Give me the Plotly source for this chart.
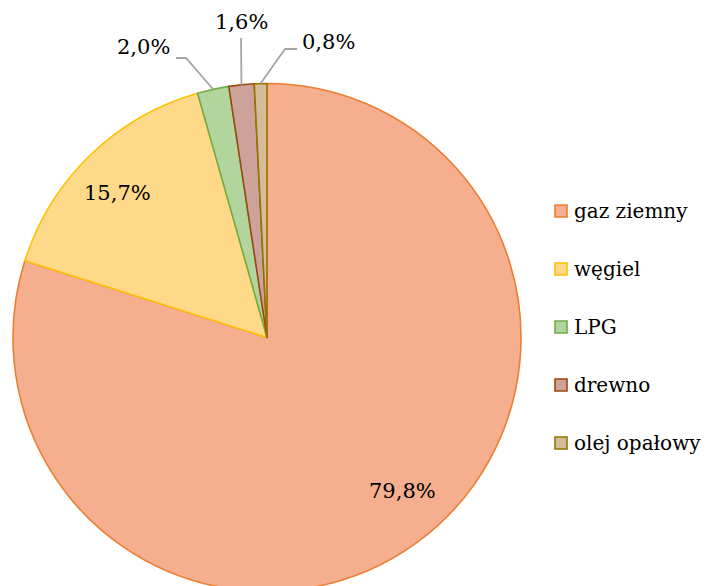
import math
import plotly.graph_objects as go

# ---- data ----
labels = ["gaz ziemny", "węgiel", "LPG", "drewno", "olej opałowy"]
values = [79.8, 15.7, 2.0, 1.6, 0.8]
value_texts = ["79,8%", "15,7%", "2,0%", "1,6%", "0,8%"]

fill_colors = ["#F5AF8F", "#FFD98A", "#B2D59E", "#CDA29B", "#D3BD98"]
line_colors = ["#ED7D31", "#FFC000", "#70AD47", "#9E480E", "#997300"]

W, H = 710, 592
cx, cy, R = 267, 337.5, 254
FONT = "DejaVu Serif"


def px(x):
    return x / W


def py(y):
    return 1 - y / H


total = sum(values)
cum = 0
mids = []
for v in values:
    mids.append((cum + v / 2) / total * 2 * math.pi)
    cum += v


def pt(angle, r):
    return cx + r * math.sin(angle), cy - r * math.cos(angle)


fig = go.Figure()
fig.add_trace(go.Pie(
    labels=labels, values=values, sort=False, direction="clockwise", rotation=0,
    marker=dict(colors=fill_colors, line=dict(color=line_colors, width=1.6)),
    textinfo="none", hoverinfo="label+percent", showlegend=False,
    domain=dict(x=[px(cx - R), px(cx + R)], y=[py(cy + R), py(cy - R)]),
))

annotations = []
shapes = []

# inside labels (large slices), label positions in pixels
inside_pos = {0: (402, 491), 1: (117, 193)}
for i, (x, y) in inside_pos.items():
    annotations.append(dict(x=px(x), y=py(y), xref="paper", yref="paper", text=value_texts[i],
                            showarrow=False, font=dict(family=FONT, size=21, color="#000000"),
                            xanchor="center", yanchor="middle"))

# outside labels with leader lines
outside = {
    2: dict(pos=(143, 47), path=[(176, 58), (186, 58)]),
    3: dict(pos=(241, 22), path=[(241, 38)]),
    4: dict(pos=(328, 42), path=[(297, 49), (285, 49)]),
}
for i, o in outside.items():
    annotations.append(dict(x=px(o["pos"][0]), y=py(o["pos"][1]), xref="paper", yref="paper",
                            text=value_texts[i], showarrow=False,
                            font=dict(family=FONT, size=21, color="#000000"),
                            xanchor="center", yanchor="middle"))
    ex, ey = pt(mids[i], R)
    pts = o["path"] + [(ex, ey)]
    d = "M " + " L ".join(f"{px(a):.5f},{py(b):.5f}" for a, b in pts)
    shapes.append(dict(type="path", path=d, xref="paper", yref="paper",
                       line=dict(color="#A5A5A5", width=1.8)))

# legend
for i, lab in enumerate(labels):
    yc = 211 + i * 58
    shapes.append(dict(type="rect", xref="paper", yref="paper",
                       x0=px(555), x1=px(567), y0=py(yc - 6), y1=py(yc + 6),
                       fillcolor=fill_colors[i], line=dict(color=line_colors[i], width=1.6)))
    annotations.append(dict(x=px(572), y=py(yc), xref="paper", yref="paper", text=lab,
                            showarrow=False, font=dict(family=FONT, size=20, color="#000000"),
                            xanchor="left", yanchor="middle"))

fig.update_layout(
    width=W, height=H, margin=dict(l=0, r=0, t=0, b=0),
    paper_bgcolor="white", plot_bgcolor="white",
    annotations=annotations, shapes=shapes, showlegend=False,
)

fig.write_html(
    "out.html",
    config={"displayModeBar": False},
    post_script="document.body.style.margin='0';document.body.style.overflow='hidden';"
                "document.documentElement.style.overflow='hidden';",
)
